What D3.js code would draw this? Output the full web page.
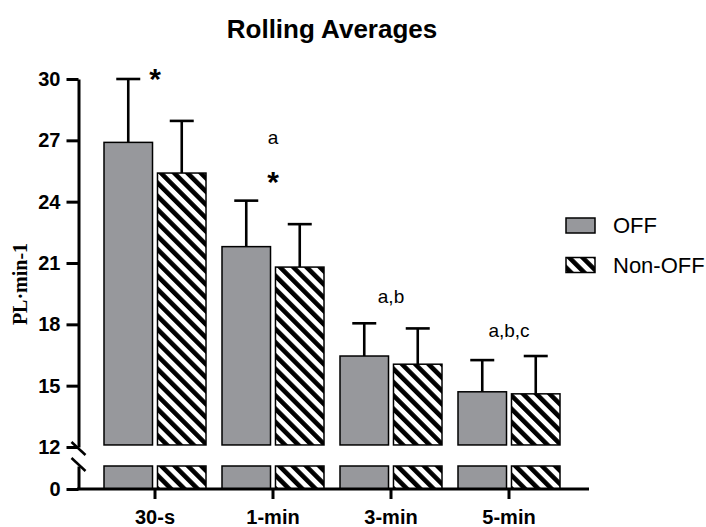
<!DOCTYPE html>
<html>
<head>
<meta charset="utf-8">
<script src="https://cdn.jsdelivr.net/npm/d3@7"></script>
<style>
  body { margin: 0; background: #fff; }
</style>
</head>
<body>
<div id="chart"></div>
<script>
// chart data
const categories = ['30-s', '1-min', '3-min', '5-min'];
const seriesNames = ['OFF', 'Non-OFF'];
const offMeans = [26.9, 21.8, 16.45, 14.7];
const offErrTop = [30.0, 24.05, 18.05, 16.25];
const nonOffMeans = [25.4, 20.8, 16.05, 14.6];
const nonOffErrTop = [27.95, 22.9, 17.8, 16.45];
const upperTicks = [12, 15, 18, 21, 24, 27, 30];
const lowerTicks = [0];
const noteCats = ['30-s', '1-min', '1-min', '3-min', '5-min'];
const noteTexts = ['*', 'a', '*', 'a,b', 'a,b,c'];
const noteLevels = [30.4, 27.1, 25.4, 19.3, 17.65];

const width = 706, height = 527;
const svg = d3.select('#chart').append('svg')
    .attr('width', width)
    .attr('height', height)
    .style('font-family', '"Liberation Sans", Arial, sans-serif');

const defs = svg.append('defs');
const hatch = defs.append('pattern')
    .attr('id', 'hatch')
    .attr('patternUnits', 'userSpaceOnUse')
    .attr('width', 9.4)
    .attr('height', 9.4)
    .attr('patternTransform', 'rotate(-45)');
hatch.append('rect').attr('width', 9.4).attr('height', 9.4).attr('fill', '#fff');
hatch.append('rect').attr('width', 4.6).attr('height', 9.4).attr('fill', '#000');

const fills = { 'OFF': '#97989c', 'Non-OFF': 'url(#hatch)' };

// scales: broken y axis, upper part 12..30, lower part 0..1
const x = d3.scaleBand().domain(categories).range([96, 568]).padding(0);
const xInner = d3.scaleBand().domain(seriesNames).range([8, 110]).paddingInner(0.093);
const yTop = d3.scaleLinear().domain([12, 30]).range([447, 79]);
const yLow = d3.scaleLinear().domain([0, 1]).range([489, 466]);
const axisX = 78.5;

const rows = [];
categories.forEach(function (c, i) {
    rows.push({ cat: c, series: 'OFF', mean: offMeans[i], err: offErrTop[i] });
    rows.push({ cat: c, series: 'Non-OFF', mean: nonOffMeans[i], err: nonOffErrTop[i] });
});

const bars = svg.append('g').selectAll('g')
    .data(rows)
    .enter()
    .append('g')
    .attr('transform', function (d) { return 'translate(' + (x(d.cat) + xInner(d.series)) + ',0)'; });

// error bars (only upward)
bars.append('line')
    .attr('x1', xInner.bandwidth() / 2)
    .attr('x2', xInner.bandwidth() / 2)
    .attr('y1', function (d) { return yTop(d.mean); })
    .attr('y2', function (d) { return yTop(d.err); })
    .attr('stroke', '#000')
    .attr('stroke-width', 2.6);
bars.append('line')
    .attr('x1', xInner.bandwidth() / 2 - 12)
    .attr('x2', xInner.bandwidth() / 2 + 12)
    .attr('y1', function (d) { return yTop(d.err); })
    .attr('y2', function (d) { return yTop(d.err); })
    .attr('stroke', '#000')
    .attr('stroke-width', 2.6);

// upper piece of the bar
bars.append('rect')
    .attr('x', 0)
    .attr('width', xInner.bandwidth())
    .attr('y', function (d) { return yTop(d.mean); })
    .attr('height', function (d) { return yTop(12.1) - yTop(d.mean); })
    .attr('fill', function (d) { return fills[d.series]; })
    .attr('stroke', '#000')
    .attr('stroke-width', 1.5);

// lower piece of the bar
bars.append('rect')
    .attr('x', 0)
    .attr('width', xInner.bandwidth())
    .attr('y', yLow(1))
    .attr('height', yLow(0) - yLow(1))
    .attr('fill', function (d) { return fills[d.series]; })
    .attr('stroke', '#000')
    .attr('stroke-width', 1.5);

// y axes
function styleAxis(g) {
    g.select('.domain').attr('stroke-width', 3);
    g.selectAll('.tick line').attr('stroke-width', 3);
    g.selectAll('.tick text')
        .attr('font-size', 20)
        .attr('font-weight', 'bold')
        .attr('font-family', '"Liberation Sans", Arial, sans-serif')
        .attr('fill', '#000');
}
svg.append('g')
    .attr('transform', 'translate(' + axisX + ',0)')
    .call(d3.axisLeft(yTop).tickValues(upperTicks).tickFormat(d3.format('d'))
        .tickSize(12).tickSizeOuter(0).tickPadding(6))
    .call(styleAxis);
svg.append('g')
    .attr('transform', 'translate(' + axisX + ',0)')
    .call(d3.axisLeft(yLow).tickValues(lowerTicks).tickFormat(d3.format('d'))
        .tickSize(12).tickSizeOuter(0).tickPadding(6))
    .call(styleAxis);

// break marks
svg.append('g').selectAll('line')
    .data([yTop(12) - 5, yLow(1) - 8])
    .enter()
    .append('line')
    .attr('x1', axisX - 7)
    .attr('x2', axisX + 7)
    .attr('y1', function (d) { return d; })
    .attr('y2', function (d) { return d + 13; })
    .attr('stroke', '#000')
    .attr('stroke-width', 2.5);

// x axis
const xAxis = svg.append('g')
    .attr('transform', 'translate(0,' + yLow(0) + ')')
    .call(d3.axisBottom(x).tickSize(10).tickSizeOuter(0).tickPadding(11));
xAxis.select('.domain').remove();
xAxis.selectAll('.tick line').attr('stroke-width', 3);
xAxis.selectAll('.tick text')
    .attr('font-size', 20)
    .attr('font-weight', 'bold')
    .attr('font-family', '"Liberation Sans", Arial, sans-serif')
    .attr('fill', '#000');
xAxis.append('line')
    .attr('x1', axisX - 1.5)
    .attr('x2', 589)
    .attr('y1', 0)
    .attr('y2', 0)
    .attr('stroke', '#000')
    .attr('stroke-width', 3);

// significance notes
svg.append('g').selectAll('text')
    .data(noteTexts)
    .enter()
    .append('text')
    .attr('x', function (d, i) { return x(noteCats[i]) + x.bandwidth() / 2; })
    .attr('y', function (d, i) { return yTop(noteLevels[i]); })
    .attr('dy', function (d) { return d === '*' ? '0.62em' : '0.3em'; })
    .attr('text-anchor', 'middle')
    .attr('font-size', function (d) { return d === '*' ? 30 : 19; })
    .attr('font-weight', function (d) { return d === '*' ? 'bold' : 'normal'; })
    .text(function (d) { return d; });

// title
svg.append('text')
    .attr('x', 332)
    .attr('y', 38)
    .attr('text-anchor', 'middle')
    .attr('font-size', 26)
    .attr('font-weight', 'bold')
    .text('Rolling Averages');

// y label, centred on the axis
svg.append('text')
    .attr('transform', 'translate(27,' + ((yTop(30) + yLow(0)) / 2) + ') rotate(-90)')
    .attr('text-anchor', 'middle')
    .attr('font-family', '"Liberation Serif", "Times New Roman", serif')
    .attr('font-size', 20)
    .attr('font-weight', 'bold')
    .text('PL\u00b7min-1');

// legend
const legend = svg.append('g').selectAll('g')
    .data(seriesNames)
    .enter()
    .append('g')
    .attr('transform', function (d, i) { return 'translate(566,' + (218 + i * 39.5) + ')'; });
legend.append('rect')
    .attr('width', 29)
    .attr('height', 15)
    .attr('fill', function (d) { return fills[d]; })
    .attr('stroke', '#000')
    .attr('stroke-width', 1.5);
legend.append('text')
    .attr('x', 47)
    .attr('y', 7.5)
    .attr('dy', '0.36em')
    .attr('font-size', 22)
    .text(function (d) { return d; });
</script>
</body>
</html>
